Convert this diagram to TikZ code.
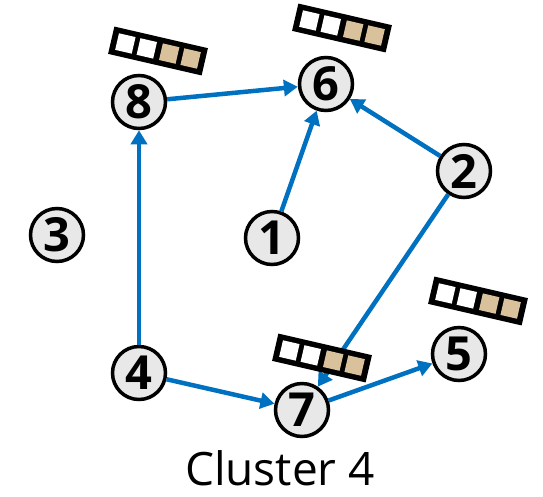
\documentclass[tikz,border=0pt]{standalone}
\usepackage{fontspec}
\setmainfont{Open Sans}
\usetikzlibrary{arrows.meta}
\definecolor{edgeblue}{HTML}{0070C0}
\definecolor{tan}{HTML}{D9C19C}
\definecolor{nodegray}{HTML}{E8E8E8}
\tikzset{
  num/.style={circle, draw=black, line width=3.5pt, fill=nodegray, minimum size=53pt, inner sep=0pt,
    font=\fontsize{47}{47}\selectfont\bfseries},
  link/.style={draw=edgeblue, line width=4.5pt, -{Triangle[length=14pt,width=16pt]}},
  barframe/.style={fill=black},
}
\newcommand{\bitbar}[1]{%
  \begin{scope}[shift={(#1)}, rotate=-13]
    \fill[barframe] (-48,-14) rectangle (48,14);
    \fill[white] (-42,-8.5) rectangle (-25,8.5);
    \fill[white] (-20,-8.5) rectangle (-3,8.5);
    \fill[tan] (3,-8.5) rectangle (20,8.5);
    \fill[tan] (25,-8.5) rectangle (42,8.5);
  \end{scope}}
\begin{document}
\begin{tikzpicture}[x=1pt, y=-1pt]
\useasboundingbox (0,0) rectangle (543,496);
\node[num] (n8) at (139,102) {8};
\node[num] (n6) at (326,84) {6};
\node[num] (n2) at (464,171) {2};
\node[num] (n1) at (272,238) {1};
\node[num] (n3) at (57,235) {3};
\node[num] (n4) at (139,373) {4};
\node[num] (n7) at (302,410) {7};
\node[num] (n5) at (459,354) {5};
\draw[link] (n8) -- (n6);
\draw[link] (n1) -- (n6);
\draw[link] (n2) -- (n6);
\draw[link] (n2) -- (n7);
\draw[link] (n4) -- (n8);
\draw[link] (n4) -- (n7);
\draw[link] (n7) -- (n5);
\bitbar{158,51}
\bitbar{342,28}
\bitbar{322,358}
\bitbar{478,301}
\node[font=\fontsize{46}{46}\selectfont, anchor=base] (cap) at (280,485) {Cluster 4};
\end{tikzpicture}
\end{document}
